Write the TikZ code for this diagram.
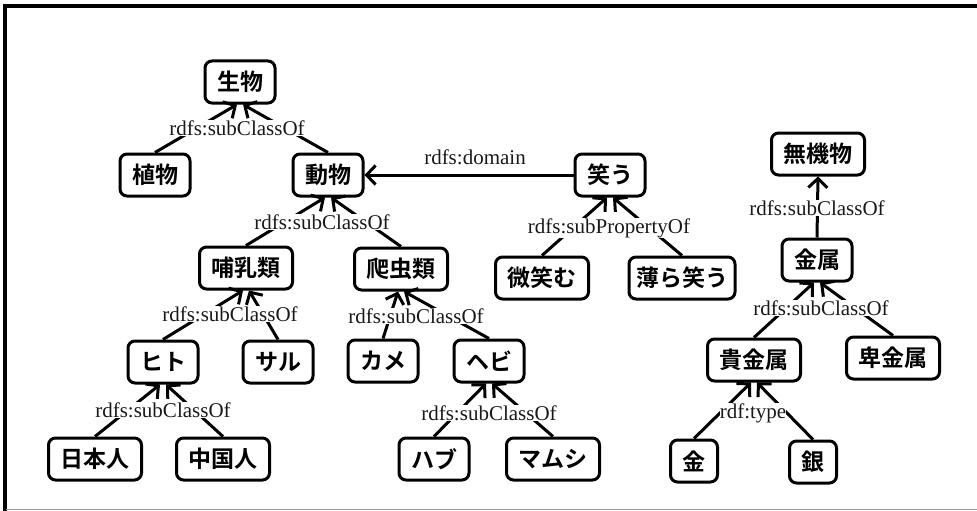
\documentclass[tikz,border=0pt]{standalone}
\usepackage{fontspec}
\setmainfont{Liberation Serif}
\newfontfamily\jp{Noto Sans CJK JP Bold}
\usetikzlibrary{arrows.meta}
\begin{document}
\begin{tikzpicture}[x=1pt,y=-1pt,
  cls/.style={draw, line width=3pt, rounded corners=7pt, font=\jp\fontsize{23}{23}\selectfont, minimum height=42pt, inner xsep=12pt, inner ysep=0pt, fill=white},
  rel/.style={font=\fontsize{21}{21}\selectfont, fill=white, inner sep=0pt, text=black!90},
  conn/.style={line width=3pt, -{Straight Barb[length=9pt,width=19pt]}}]
\useasboundingbox (0,0) rectangle (977,511);
% frame
\draw[line width=3.5pt] (5,511) -- (5,6) -- (977,6);
\draw[line width=1.5pt, black!40] (6,509.5) -- (977,509.5);
% nodes
\node[cls] (seibutsu) at (240,82) {生物};
\node[cls] (shokubutsu) at (155,175) {植物};
\node[cls] (doubutsu) at (328,175) {動物};
\node[cls] (honyu) at (246,268) {哺乳類};
\node[cls] (hachu) at (401,269) {爬虫類};
\node[cls] (hito) at (163,362) {ヒト};
\node[cls] (saru) at (278,362) {サル};
\node[cls] (nihon) at (95,459) {日本人};
\node[cls] (chugoku) at (223,459) {中国人};
\node[cls] (kame) at (383,361) {カメ};
\node[cls] (hebi) at (489,361) {ヘビ};
\node[cls] (habu) at (434,459) {ハブ};
\node[cls] (mamushi) at (553,459) {マムシ};
\node[cls] (warau) at (610,175) {笑う};
\node[cls] (hohoemu) at (542,278) {微笑む};
\node[cls, inner xsep=7pt] (usura) at (682,278) {薄ら笑う};
\node[cls] (muki) at (818,154) {無機物};
\node[cls] (kinzoku) at (817,260) {金属};
\node[cls] (kikin) at (754,360) {貴金属};
\node[cls] (hikin) at (893,358) {卑金属};
\node[cls] (kin) at (694,461) {金};
\node[cls] (gin) at (813,462) {銀};
% edges
\draw[conn] (shokubutsu.north) -- ([xshift=-3pt]seibutsu.south);
\draw[conn] (doubutsu.north) -- ([xshift=3pt]seibutsu.south);
\draw[conn] (honyu.north) -- ([xshift=-3pt]doubutsu.south);
\draw[conn] (hachu.north) -- ([xshift=3pt]doubutsu.south);
\draw[conn] (hito.north) -- ([xshift=-3pt]honyu.south);
\draw[conn] (saru.north) -- ([xshift=3pt]honyu.south);
\draw[conn] (nihon.north) -- ([xshift=-3pt]hito.south);
\draw[conn] (chugoku.north) -- ([xshift=3pt]hito.south);
\draw[conn] (kame.north) -- ([xshift=-3pt]hachu.south);
\draw[conn] (hebi.north) -- ([xshift=3pt]hachu.south);
\draw[conn] (habu.north) -- ([xshift=-3pt]hebi.south);
\draw[conn] (mamushi.north) -- ([xshift=3pt]hebi.south);
\draw[conn] (hohoemu.north) -- ([xshift=-3pt]warau.south);
\draw[conn] (usura.north) -- ([xshift=3pt]warau.south);
\draw[conn] (kinzoku.north) -- (muki.south);
\draw[conn] (kikin.north) -- ([xshift=-3pt]kinzoku.south);
\draw[conn] (hikin.north) -- ([xshift=3pt]kinzoku.south);
\draw[conn] (kin.north) -- ([xshift=-3pt]kikin.south);
\draw[conn] (gin.north) -- ([xshift=3pt]kikin.south);
\draw[conn] (warau.west) -- (doubutsu.east);
% labels
\node[rel] (l1) at (237,128) {rdfs:subClassOf};
\node[rel] (l2) at (322,222) {rdfs:subClassOf};
\node[rel] (l3) at (230,314) {rdfs:subClassOf};
\node[rel] (l4) at (416,316) {rdfs:subClassOf};
\node[rel] (l5) at (163,410) {rdfs:subClassOf};
\node[rel] (l6) at (489,413) {rdfs:subClassOf};
\node[rel] (l7) at (609,228) {rdfs:subPropertyOf};
\node[rel] (l8) at (817,208) {rdfs:subClassOf};
\node[rel] (l9) at (821,308) {rdfs:subClassOf};
\node[rel] (l10) at (753,413) {rdf:type};
\node[rel, fill=none] (l11) at (475,157) {rdfs:domain};
\end{tikzpicture}
\end{document}
